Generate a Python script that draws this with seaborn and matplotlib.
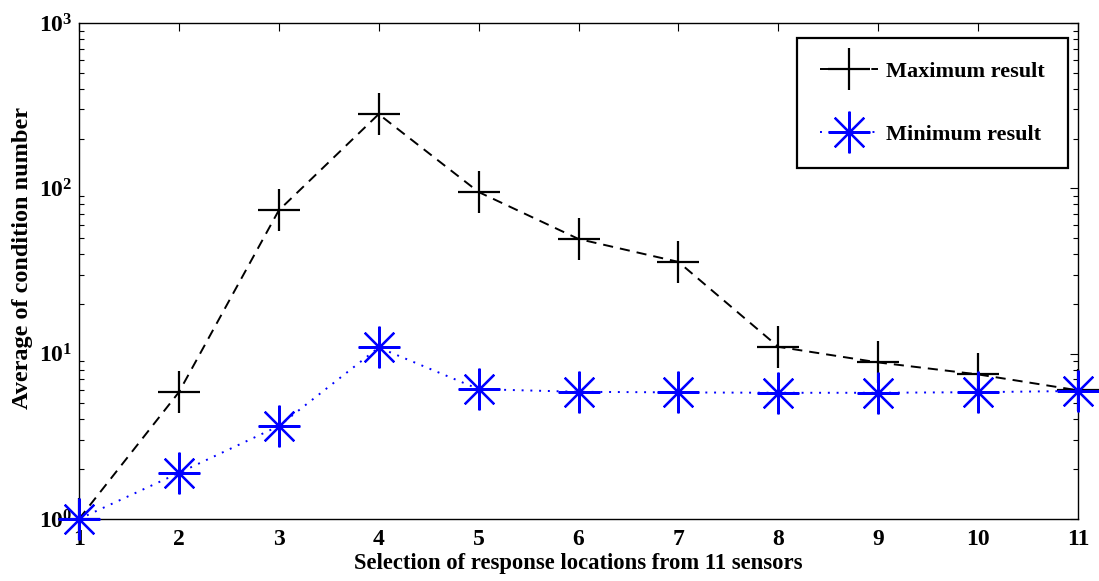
import matplotlib
matplotlib.use("Agg")
import matplotlib.pyplot as plt
from matplotlib.ticker import LogLocator, NullFormatter
import seaborn as sns
import pandas as pd

# Data
sensors = [1, 2, 3, 4, 5, 6, 7, 8, 9, 10, 11]
max_result = [1.0, 5.85, 73.6, 281, 95, 49.4, 35.9, 11.0, 8.85, 7.49, 6.0]
min_result = [1.0, 1.9, 3.65, 10.9, 6.1, 5.88, 5.83, 5.8, 5.8, 5.85, 5.95]
x_label = "Selection of response locations from 11 sensors"
y_label = "Average of condition number"
series_names = ["Maximum result", "Minimum result"]

sns.set_style("white")
plt.rcParams['font.family'] = ['Liberation Serif', 'DejaVu Serif']
plt.rcParams['mathtext.fontset'] = 'custom'
plt.rcParams['mathtext.rm'] = 'Liberation Serif:bold'
plt.rcParams['mathtext.it'] = 'Liberation Serif:italic:bold'
plt.rcParams['mathtext.bf'] = 'Liberation Serif:bold'
plt.rcParams['text.color'] = 'black'
plt.rcParams['axes.labelcolor'] = 'black'
plt.rcParams['xtick.color'] = 'black'
plt.rcParams['ytick.color'] = 'black'

df = pd.DataFrame({"x": sensors, "max": max_result, "min": min_result})

fig = plt.figure(figsize=(10.99, 5.81), dpi=100)
ax = fig.add_axes([79/1099, 1-519/581, (1078-79)/1099, (519-23)/581])

sns.lineplot(data=df, x="x", y="max", ax=ax, color="black", linestyle=(0, (5.2, 3.6)),
             linewidth=1.4, marker="+", markersize=30, markeredgewidth=1.6,
             markeredgecolor="black", markerfacecolor="black",
             label=series_names[0], clip_on=False, zorder=3)
sns.lineplot(data=df, x="x", y="min", ax=ax, color="#0000ff", linestyle=(0, (1, 3.5)),
             linewidth=1.4, marker=(8, 2, 0), markersize=30, markeredgewidth=1.6,
             markeredgecolor="#0000ff", markerfacecolor="#0000ff",
             label=series_names[1], clip_on=False, zorder=4)

ax.set_yscale("log")
ax.set_xlim(1, 11)
ax.set_ylim(1, 1000)
ax.set_xticks(sensors)
ax.set_xticklabels([str(s) for s in sensors])
ax.yaxis.set_major_locator(LogLocator(base=10, numticks=10))
ax.yaxis.set_minor_locator(LogLocator(base=10, subs=range(2, 10), numticks=20))
ax.yaxis.set_minor_formatter(NullFormatter())

for s in ax.spines.values():
    s.set_visible(True)
    s.set_color("black")
    s.set_linewidth(1.0)

ax.tick_params(axis="both", which="major", direction="in", length=6, width=0.8,
               top=True, right=True, labelsize=17, colors="black", pad=5)
ax.tick_params(axis="y", which="minor", direction="in", length=3.5, width=0.8,
               left=True, right=True)
ax.tick_params(axis="x", which="major", pad=7)
for lab in ax.get_xticklabels() + ax.get_yticklabels():
    lab.set_fontweight("bold")

ax.set_xlabel(x_label, fontsize=16.3, fontweight="bold", labelpad=2)
ax.set_ylabel(y_label, fontsize=17.5, fontweight="bold")
ax.yaxis.set_label_coords(-0.046, 0.526)

leg = ax.legend(loc="upper right", bbox_to_anchor=(0.990, 0.970), frameon=True,
                fancybox=False, edgecolor="black", borderaxespad=0.0,
                handlelength=2.6, labelspacing=1.9, borderpad=1.05,
                handletextpad=0.36, prop={"size": 16, "weight": "bold"})
leg.get_frame().set_linewidth(1.6)
leg.get_frame().set_alpha(1)
leg.set_zorder(10)

fig.savefig("out.png", dpi=100, facecolor="white")
